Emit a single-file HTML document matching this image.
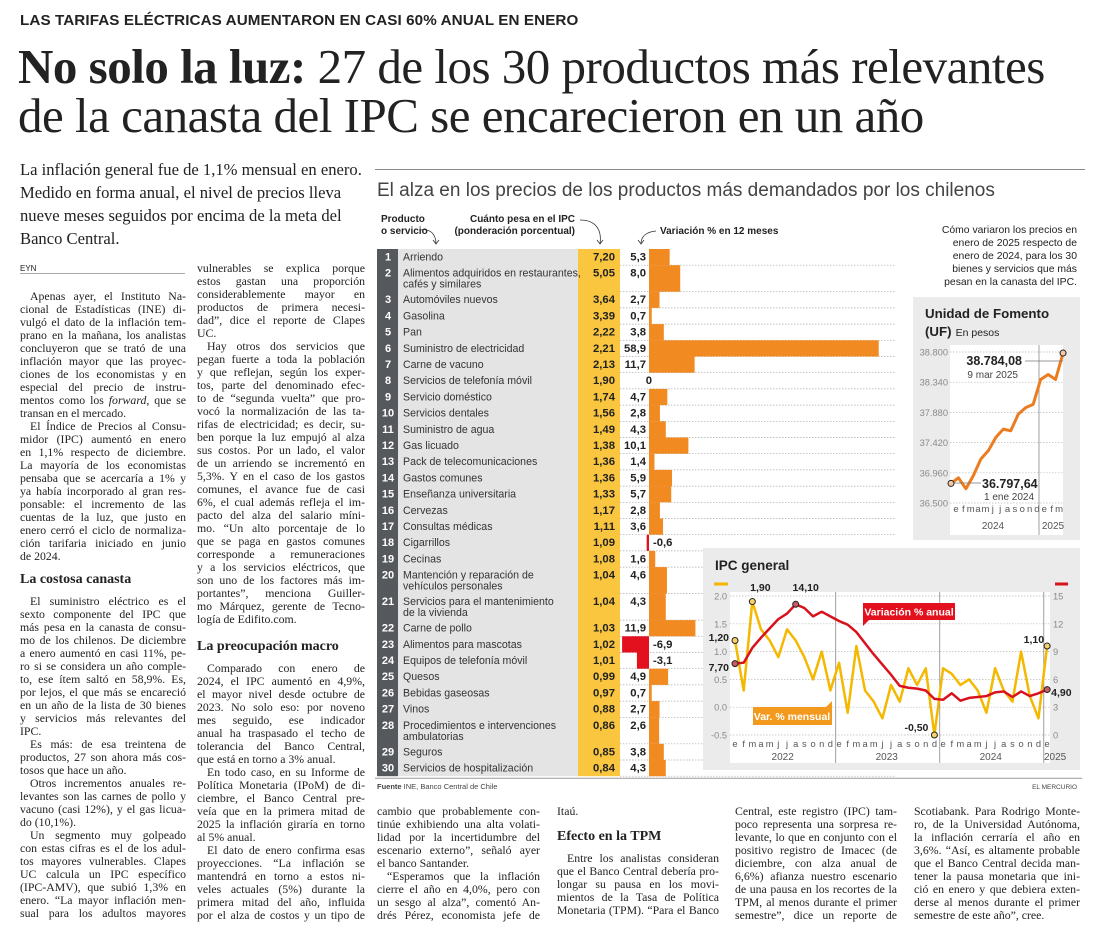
<!DOCTYPE html>
<html><head><meta charset="utf-8">
<style>
body{margin:0;width:1100px;height:944px;background:#fff;position:relative;overflow:hidden;font-family:"Liberation Serif",serif;color:#222}
.a{position:absolute}
.kick{left:20px;top:12px;font:bold 15.2px "Liberation Sans",sans-serif;letter-spacing:0.1px}
.hl{left:18px;font-size:49px;line-height:48px;letter-spacing:-0.5px;white-space:nowrap;font-family:"Liberation Serif",serif}
.intro{left:20px;top:158px;width:350px;font-size:16.6px;line-height:23px}
.ctitle{left:377px;top:180px;font:19px "Liberation Sans",sans-serif;color:#444;white-space:nowrap}
.col{font-size:11.8px;line-height:13px}
.col div{height:13px;overflow:hidden;text-align:justify;text-align-last:justify}
.col div.l{text-align-last:left}
.col div.i{text-indent:10px}
.col h4{margin:0;font:bold 14px "Liberation Serif",serif;height:26px;line-height:22px}
.note{left:915px;top:224px;width:162px;text-align:right;font:10.4px/13px "Liberation Sans",sans-serif;color:#222}
</style></head><body>
<div class="a kick">LAS TARIFAS ELÉCTRICAS AUMENTARON EN CASI 60% ANUAL EN ENERO</div>
<div class="a hl" style="top:43px"><b>No solo la luz:</b> 27 de los 30 productos más relevantes</div>
<div class="a hl" style="top:92px">de la canasta del IPC se encarecieron en un año</div>
<div class="a intro">La inflación general fue de 1,1% mensual en enero.<br>Medido en forma anual, el nivel de precios lleva<br>nueve meses seguidos por encima de la meta del<br>Banco Central.</div>
<div class="a" style="left:375px;top:169px;width:710px;height:1px;background:#888"></div>
<div class="a ctitle">El alza en los precios de los productos más demandados por los chilenos</div>
<div class="a note">Cómo variaron los precios en<br>enero de 2025 respecto de<br>enero de 2024, para los 30<br>bienes y servicios que más<br>pesan en la canasta del IPC.</div>
<div class="a" style="left:20px;top:264px;font:8px 'Liberation Sans',sans-serif;border-bottom:1px solid #aaa;width:165px">EYN</div>

<div class="a col" style="left:20px;top:290px;width:166px">
<div class="i">Apenas ayer, el Instituto Na-</div><div>cional de Estadísticas (INE) di-</div><div>vulgó el dato de la inflación tem-</div><div>prano en la mañana, los analistas</div><div>concluyeron que se trató de una</div><div>inflación mayor que las proyec-</div><div>ciones de los economistas y en</div><div>especial del precio de instru-</div><div>mentos como los <i>forward</i>, que se</div><div class="l">transan en el mercado.</div>
<div class="i">El Índice de Precios al Consu-</div><div>midor (IPC) aumentó en enero</div><div>en 1,1% respecto de diciembre.</div><div>La mayoría de los economistas</div><div>pensaba que se acercaría a 1% y</div><div>ya había incorporado al gran res-</div><div>ponsable: el incremento de las</div><div>cuentas de la luz, que justo en</div><div>enero cerró el ciclo de normaliza-</div><div>ción tarifaria iniciado en junio</div><div class="l">de 2024.</div>
<h4 style="margin-top:6px">La costosa canasta</h4>
<div class="i">El suministro eléctrico es el</div><div>sexto componente del IPC que</div><div>más pesa en la canasta de consu-</div><div>mo de los chilenos. De diciembre</div><div>a enero aumentó en casi 11%, pe-</div><div>ro si se considera un año comple-</div><div>to, ese ítem saltó en 58,9%. Es,</div><div>por lejos, el que más se encareció</div><div>en un año de la lista de 30 bienes</div><div>y servicios más relevantes del</div><div class="l">IPC.</div>
<div class="i">Es más: de esa treintena de</div><div>productos, 27 son ahora más cos-</div><div class="l">tosos que hace un año.</div>
<div class="i">Otros incrementos anuales re-</div><div>levantes son las carnes de pollo y</div><div>vacuno (casi 12%), y el gas licua-</div><div class="l">do (10,1%).</div>
<div class="i">Un segmento muy golpeado</div><div>con estas cifras es el de los adul-</div><div>tos mayores vulnerables. Clapes</div><div>UC calcula un IPC específico</div><div>(IPC-AMV), que subió 1,3% en</div><div>enero. “La mayor inflación men-</div><div>sual para los adultos mayores</div>
</div>

<div class="a col" style="left:197px;top:262px;width:168px">
<div>vulnerables se explica porque</div><div>estos gastan una proporción</div><div>considerablemente mayor en</div><div>productos de primera necesi-</div><div>dad”, dice el reporte de Clapes</div><div class="l">UC.</div>
<div class="i">Hay otros dos servicios que</div><div>pegan fuerte a toda la población</div><div>y que reflejan, según los exper-</div><div>tos, parte del denominado efec-</div><div>to de “segunda vuelta” que pro-</div><div>vocó la normalización de las ta-</div><div>rifas de electricidad; es decir, su-</div><div>ben porque la luz empujó al alza</div><div>sus costos. Por un lado, el valor</div><div>de un arriendo se incrementó en</div><div>5,3%. Y en el caso de los gastos</div><div>comunes, el avance fue de casi</div><div>6%, el cual además refleja el im-</div><div>pacto del alza del salario míni-</div><div>mo. “Un alto porcentaje de lo</div><div>que se paga en gastos comunes</div><div>corresponde a remuneraciones</div><div>y a los servicios eléctricos, que</div><div>son uno de los factores más im-</div><div>portantes”, menciona Guiller-</div><div>mo Márquez, gerente de Tecno-</div><div class="l">logía de Edifito.com.</div>
<h4 style="margin-top:10px">La preocupación macro</h4>
<div class="i">Comparado con enero de</div><div>2024, el IPC aumentó en 4,9%,</div><div>el mayor nivel desde octubre de</div><div>2023. No solo eso: por noveno</div><div>mes seguido, ese indicador</div><div>anual ha traspasado el techo de</div><div>tolerancia del Banco Central,</div><div class="l">que está en torno a 3% anual.</div>
<div class="i">En todo caso, en su Informe de</div><div>Política Monetaria (IPoM) de di-</div><div>ciembre, el Banco Central pre-</div><div>veía que en la primera mitad de</div><div>2025 la inflación giraría en torno</div><div class="l">al 5% anual.</div>
<div class="i">El dato de enero confirma esas</div><div>proyecciones. “La inflación se</div><div>mantendrá en torno a estos ni-</div><div>veles actuales (5%) durante la</div><div>primera mitad del año, influida</div><div>por el alza de costos y un tipo de</div>
</div>

<div class="a col" style="left:377px;top:805px;width:163px">
<div>cambio que probablemente con-</div><div>tinúe exhibiendo una alta volati-</div><div>lidad por la incertidumbre del</div><div>escenario externo”, señaló ayer</div><div class="l">el banco Santander.</div><div class="i">“Esperamos que la inflación</div><div>cierre el año en 4,0%, pero con</div><div>un sesgo al alza”, comentó An-</div><div>drés Pérez, economista jefe de</div>
</div>
<div class="a col" style="left:557px;top:805px;width:162px">
<div class="l">Itaú.</div>
<h4 style="margin-top:8px">Efecto en la TPM</h4>
<div class="i">Entre los analistas consideran</div><div>que el Banco Central debería pro-</div><div>longar su pausa en los movi-</div><div>mientos de la Tasa de Política</div><div>Monetaria (TPM). “Para el Banco</div>
</div>
<div class="a col" style="left:735px;top:805px;width:162px">
<div>Central, este registro (IPC) tam-</div><div>poco representa una sorpresa re-</div><div>levante, lo que en conjunto con el</div><div>positivo registro de Imacec (de</div><div>diciembre, con alza anual de</div><div>6,6%) afianza nuestro escenario</div><div>de una pausa en los recortes de la</div><div>TPM, al menos durante el primer</div><div>semestre”, dice un reporte de</div>
</div>
<div class="a col" style="left:914px;top:805px;width:166px">
<div>Scotiabank. Para Rodrigo Monte-</div><div>ro, de la Universidad Autónoma,</div><div>la inflación cerraría el año en</div><div>3,6%. “Así, es altamente probable</div><div>que el Banco Central decida man-</div><div>tener la pausa monetaria que ini-</div><div>ció en enero y que debiera exten-</div><div>derse al menos durante el primer</div><div class="l">semestre de este año”, cree.</div>
</div>

<svg id="g" class="a" style="left:0;top:0" width="1100" height="944" xmlns="http://www.w3.org/2000/svg" font-family="Liberation Sans, sans-serif">
<g id="tbl"></g>
<g id="uf"></g>
<g id="ipc"></g>
</svg>

<script>
// ---- table data ----
const productNames=["Arriendo","Alimentos adquiridos en restaurantes,\ncafés y similares","Automóviles nuevos","Gasolina","Pan","Suministro de electricidad","Carne de vacuno","Servicios de telefonía móvil","Servicio doméstico","Servicios dentales","Suministro de agua","Gas licuado","Pack de telecomunicaciones","Gastos comunes","Enseñanza universitaria","Cervezas","Consultas médicas","Cigarrillos","Cecinas","Mantención y reparación de\nvehículos personales","Servicios para el mantenimiento\nde la vivienda","Carne de pollo","Alimentos para mascotas","Equipos de telefonía móvil","Quesos","Bebidas gaseosas","Vinos","Procedimientos e intervenciones\nambulatorias","Seguros","Servicios de hospitalización"];
const weights=[7.20,5.05,3.64,3.39,2.22,2.21,2.13,1.90,1.74,1.56,1.49,1.38,1.36,1.36,1.33,1.17,1.11,1.09,1.08,1.04,1.04,1.03,1.02,1.01,0.99,0.97,0.88,0.86,0.85,0.84];
const changes=[5.3,8.0,2.7,0.7,3.8,58.9,11.7,0,4.7,2.8,4.3,10.1,1.4,5.9,5.7,2.8,3.6,-0.6,1.6,4.6,4.3,11.9,-6.9,-3.1,4.9,0.7,2.7,2.6,3.8,4.3];
// ---- UF data ----
const ufLabels=["e","f","m","a","m","j","j","a","s","o","n","d","e","f","m"];
const ufTicks=[36500,36960,37420,37880,38340,38800];
const ufTickLabels=["36.500","36.960","37.420","37.880","38.340","38.800"];
const ufValues=[36798,36883,36717,36919,37171,37297,37499,37625,37600,37852,37953,38003,38381,38457,38381,38784];
// ---- IPC data ----
const ipcMonthly=[1.2,0.3,1.9,1.4,1.2,0.9,1.4,1.2,0.9,0.5,1.0,0.3,0.8,-0.1,1.1,0.3,0.1,-0.2,0.4,0.1,0.7,0.4,0.7,-0.5,0.7,0.6,0.4,0.5,0.3,-0.1,0.7,0.3,0.1,1.0,0.2,-0.2,1.1];
const ipcAnnual=[7.7,7.8,9.4,10.5,11.5,12.5,13.1,14.1,13.7,12.8,13.3,12.8,12.3,11.9,11.1,9.9,8.7,7.6,6.5,5.3,5.1,5.0,4.8,3.9,3.8,4.5,3.7,4.0,4.1,4.2,4.6,4.7,4.1,4.7,4.2,4.5,4.9];
const ipcLeftTicks=[2.0,1.5,1.0,0.5,0.0,-0.5];
const ipcRightTicks=[15,12,9,6,3,0];
const ipcYears=["2022","2023","2024","2025"];
const monthLetters=["e","f","m","a","m","j","j","a","s","o","n","d"];

const NS="http://www.w3.org/2000/svg";
function el(p,tag,at,txt){const e=document.createElementNS(NS,tag);for(const k in at)e.setAttribute(k,at[k]);if(txt!==undefined)e.textContent=txt;p.appendChild(e);return e;}

// ---- table ----
(function(){
const g=document.getElementById('tbl');
const top0=249, hS=16.2, hD=26.5, zeroX=649, pxU=3.9;
let y=top0;const ys=[];
productNames.forEach(n=>{const h=n.includes("\n")?hD:hS;ys.push([y,h]);y+=h;});
const bottom=y;
let r=el(g,'rect',{x:377,y:top0,width:21,height:bottom-top0,fill:'#55595d'});

r=el(g,'rect',{x:398,y:top0,width:180,height:bottom-top0,fill:'#e4e4e4'});

r=el(g,'rect',{x:578,y:top0,width:42,height:bottom-top0,fill:'#fac640'});

productNames.forEach((n,i)=>{
 const [ry,h]=ys[i];
 el(g,'line',{x1:620,x2:895,y1:ry+h,y2:ry+h,stroke:'#aaa','stroke-width':0.7,'stroke-dasharray':'1.5,1.5'});
 const v=changes[i];
 if(v!==0){const w=Math.abs(v)*pxU;
  const b=el(g,'rect',{x:v>0?zeroX:zeroX-w,y:ry,width:w,height:h,fill:v>0?'#f18a21':'#e3101d'});
  
  }
 const t1=el(g,'text',{x:388,y:ry+11.5,'text-anchor':'middle','font-size':11,'font-weight':'bold',fill:'#fff'},String(i+1));
 
 n.split("\n").forEach((ln,k)=>{const t=el(g,'text',{x:403,y:ry+11.5+k*11,'font-size':10.6,fill:'#333'},ln);
  });
 const tw=el(g,'text',{x:615,y:ry+11.5,'text-anchor':'end','font-size':11.3,'font-weight':'bold',fill:'#222'},weights[i].toFixed(2).replace('.',','));
 
 const vs=v===0?"0":v.toFixed(1).replace('.',',');
 const tv=el(g,'text',{x:v<0?zeroX+4:(v===0?zeroX+3:zeroX-3),y:ry+11.5,'text-anchor':v<0?'start':'end','font-size':11.3,'font-weight':'bold',fill:'#222'},vs);
 
});
el(g,'line',{x1:375,x2:1082,y1:bottom+2,y2:bottom+2,stroke:'#999','stroke-width':1});
let f=el(g,'text',{x:377,y:bottom+13,'font-size':7.5,fill:'#444'});
el(f,'tspan',{'font-weight':'bold'},'Fuente ');el(f,'tspan',{},' INE, Banco Central de Chile');

f=el(g,'text',{x:1077,y:bottom+13,'font-size':6.5,'text-anchor':'end',fill:'#444'},'EL MERCURIO');

const hdr=[["Producto",381,222],["o servicio",381,234],["Cuánto pesa en el IPC",575,222],["(ponderación porcentual)",575,234],["Variación % en 12 meses",660,234]];
hdr.forEach((h,k)=>{const t=el(g,'text',{x:h[1],y:h[2],'font-size':10,'font-weight':'bold',fill:'#222','text-anchor':(k===2||k===3)?'end':'start'},h[0]);
 });
const arrows=["M420,230 C430,228 436,234 436,244","M580,220 C596,220 602,230 600,244","M656,231 C646,232 641,236 641,244"];
arrows.forEach(d=>{el(g,'path',{d:d,fill:'none',stroke:'#333','stroke-width':0.8});});
[[436,244],[600,244],[641,244]].forEach(p=>{el(g,'path',{d:`M${p[0]-3},${p[1]-4} L${p[0]},${p[1]} L${p[0]+3},${p[1]-4}`,fill:'none',stroke:'#333','stroke-width':0.8});});
})();

// ---- UF chart ----
(function(){
const g=document.getElementById('uf');
el(g,'rect',{x:913,y:297,width:167,height:243,fill:'#ebebeb'});
el(g,'rect',{x:950,y:345,width:113,height:190,fill:'#fff'});
let t=el(g,'text',{x:925,y:318,'font-size':13.3,'font-weight':'bold',fill:'#222'},'Unidad de Fomento');

t=el(g,'text',{x:925,y:336,'font-size':13.3,'font-weight':'bold',fill:'#222'},'(UF)');
el(t,'tspan',{'font-size':10.5,'font-weight':'normal',dx:4},'En pesos');
const yU=v=>503-(v-36500)/2300*151;
const xU=i=>951+i*7.47;
ufTicks.forEach((v,k)=>{el(g,'line',{x1:950,x2:1063,y1:yU(v),y2:yU(v),stroke:'#bbb','stroke-width':0.7,'stroke-dasharray':'1.5,1.5'});
 const l=el(g,'text',{x:948,y:yU(v)+3.5,'font-size':9.3,'text-anchor':'end',fill:'#8a8a8a'},ufTickLabels[k]);
 });
ufLabels.forEach((m,i)=>{const l=el(g,'text',{x:956+i*7.36,y:512,'font-size':9.5,'text-anchor':'middle',fill:'#555'},m);
 });
el(g,'line',{x1:1039,x2:1039,y1:345,y2:535,stroke:'#888','stroke-width':0.8});
el(g,'text',{x:993,y:529,'font-size':10,'text-anchor':'middle',fill:'#555'},'2024');
el(g,'text',{x:1053,y:529,'font-size':10,'text-anchor':'middle',fill:'#555'},'2025');
const pts=ufValues.map((v,i)=>xU(i)+','+yU(v)).join(' ');
const pl=el(g,'polyline',{points:pts,fill:'none',stroke:'#ec7c20','stroke-width':3,'stroke-linejoin':'round'});

const last=ufValues.length-1;
el(g,'line',{x1:1025,x2:xU(last),y1:361,y2:361,stroke:'#777','stroke-width':0.7});
el(g,'line',{x1:xU(0),x2:981,y1:483,y2:483,stroke:'#777','stroke-width':0.7});
el(g,'circle',{cx:xU(last),cy:yU(ufValues[last]),r:3,fill:'#f6c9a6',stroke:'#222','stroke-width':1});
el(g,'circle',{cx:xU(0),cy:yU(ufValues[0]),r:3,fill:'#f6c9a6',stroke:'#222','stroke-width':1});
t=el(g,'text',{x:1022,y:365,'font-size':12.5,'font-weight':'bold','text-anchor':'end',fill:'#222'},'38.784,08');

el(g,'text',{x:1018,y:378,'font-size':10,'text-anchor':'end',fill:'#444'},'9 mar 2025');
t=el(g,'text',{x:982,y:488,'font-size':12.5,'font-weight':'bold',fill:'#222'},'36.797,64');

el(g,'text',{x:984,y:500,'font-size':10,fill:'#444'},'1 ene 2024');
})();

// ---- IPC chart ----
(function(){
const g=document.getElementById('ipc');
el(g,'rect',{x:703,y:548,width:377,height:222,fill:'#ebebeb'});
el(g,'rect',{x:730,y:592,width:320,height:171,fill:'#fff'});
let t=el(g,'text',{x:715,y:570,'font-size':13.5,'font-weight':'bold',fill:'#222'},'IPC general');

el(g,'line',{x1:714,x2:728,y1:584,y2:584,stroke:'#f4b400','stroke-width':3});
el(g,'line',{x1:1055,x2:1068,y1:584,y2:584,stroke:'#d8121d','stroke-width':3});
const xI=i=>735+i*8.67;
const yL=v=>596+(2-v)*55.6;
const yR=v=>735-v*9.27;
ipcLeftTicks.forEach(v=>{el(g,'line',{x1:730,x2:1050,y1:yL(v),y2:yL(v),stroke:'#bbb','stroke-width':0.7,'stroke-dasharray':'1.5,1.5'});
 const l=el(g,'text',{x:727,y:yL(v)+3.5,'font-size':9.3,'text-anchor':'end',fill:'#8a8a8a'},v.toFixed(1));
 });
ipcRightTicks.forEach(v=>{const l=el(g,'text',{x:1053,y:yR(v)+3.5,'font-size':9.3,fill:'#8a8a8a'},String(v));
 });
ipcMonthly.forEach((v,i)=>{const l=el(g,'text',{x:xI(i),y:747,'font-size':9.3,'text-anchor':'middle',fill:'#555'},monthLetters[i%12]);
 });
[11.5,23.5,35.5].forEach(i=>{el(g,'line',{x1:xI(i)+1,x2:xI(i)+1,y1:592,y2:763,stroke:'#888','stroke-width':0.8});});
const yearX=[xI(5.5),xI(17.5),xI(29.5),xI(36)+8];
ipcYears.forEach((y,k)=>{const l=el(g,'text',{x:yearX[k],y:760,'font-size':10,'text-anchor':'middle',fill:'#555'},y);
 });
let p=el(g,'polyline',{points:ipcMonthly.map((v,i)=>xI(i)+','+yL(v)).join(' '),fill:'none',stroke:'#f5b800','stroke-width':2.5,'stroke-linejoin':'round'});

p=el(g,'polyline',{points:ipcAnnual.map((v,i)=>xI(i)+','+yR(v)).join(' '),fill:'none',stroke:'#d8121d','stroke-width':2.5,'stroke-linejoin':'round'});

const n=ipcMonthly.length-1;
const mMax=ipcMonthly.indexOf(Math.max(...ipcMonthly)), mMin=ipcMonthly.indexOf(Math.min(...ipcMonthly)), aMax=ipcAnnual.indexOf(Math.max(...ipcAnnual));
[[0,yL(ipcMonthly[0]),'#f7d26a'],[mMax,yL(ipcMonthly[mMax]),'#f7d26a'],[mMin,yL(ipcMonthly[mMin]),'#f7d26a'],[n,yL(ipcMonthly[n]),'#f7d26a'],[0,yR(ipcAnnual[0]),'#c85a66'],[aMax,yR(ipcAnnual[aMax]),'#c85a66'],[n,yR(ipcAnnual[n]),'#c85a66']].forEach(c=>{
 el(g,'circle',{cx:xI(c[0]),cy:c[1],r:3,fill:c[2],stroke:'#222','stroke-width':1});});
const lab=(x,y,s,a)=>{const l=el(g,'text',{x:x,y:y,'font-size':10.5,'font-weight':'bold','text-anchor':a,fill:'#222'},s);
 };
lab(729,641,ipcMonthly[0].toFixed(2).replace('.',','),'end');
lab(729,671,ipcAnnual[0].toFixed(2).replace('.',','),'end');
lab(xI(mMax)+8,591,ipcMonthly[mMax].toFixed(2).replace('.',','),'middle');
lab(xI(aMax)+10,591,ipcAnnual[aMax].toFixed(2).replace('.',','),'middle');
lab(xI(mMin)-6,731,ipcMonthly[mMin].toFixed(2).replace('.',','),'end');
lab(xI(n)-3,643,ipcMonthly[n].toFixed(2).replace('.',','),'end');
lab(xI(n)+4,696,ipcAnnual[n].toFixed(2).replace('.',','),'start');
let b=el(g,'path',{d:'M863,603 H955 V620 H869 L863,626 Z',fill:'#e3101d'});

el(g,'text',{x:909,y:615.5,'font-size':10.5,'font-weight':'bold','text-anchor':'middle',fill:'#fff'},'Variación % anual');
b=el(g,'path',{d:'M753,707 H826 L832,701 V725 H753 Z',fill:'#f39a1e'});

el(g,'text',{x:792,y:720,'font-size':10.5,'font-weight':'bold','text-anchor':'middle',fill:'#fff'},'Var. % mensual');
})();
</script>
</body></html>
